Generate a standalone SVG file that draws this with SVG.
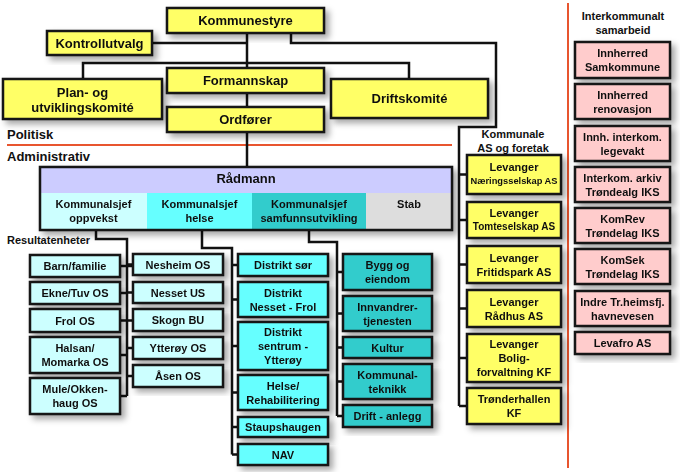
<svg xmlns="http://www.w3.org/2000/svg" width="680" height="472" viewBox="0 0 680 472">
<defs>
<filter id="sh" x="-20%" y="-20%" width="150%" height="160%">
<feDropShadow dx="4" dy="4" stdDeviation="3" flood-color="#000" flood-opacity="0.35"/>
</filter>
<style>
.b{stroke:#151515;stroke-width:2.5}
.y{fill:#ffff66}
.p{fill:#ffcccc}
.c1{fill:#ccffff}
.c2{fill:#66ffff}
.c3{fill:#33cccc}
.n{filter:url(#sh)}
text{font-family:"Liberation Sans",Arial,sans-serif;font-weight:bold;fill:#111;text-anchor:middle}
.t13{font-size:13px}
.t11{font-size:11px}
.lbl{font-size:13px;text-anchor:start}
.lbs{font-size:11px;text-anchor:start}
.con{fill:none;stroke:#111;stroke-width:2.5}
.red{fill:none;stroke:#e8552f;stroke-width:2}
</style>
</defs>
<rect width="680" height="472" fill="#ffffff"/>

<g id="dividers">
<line class="red" x1="7" y1="145" x2="452" y2="145"/>
<line class="red" x1="568" y1="3" x2="568" y2="468"/>
</g>

<g id="labels">
<text class="lbl" x="7" y="139">Politisk</text>
<text class="lbl" x="7" y="161">Administrativ</text>
<text class="lbs" x="7" y="244">Resultatenheter</text>
<text class="t11" x="513" y="138">Kommunale</text>
<text class="t11" x="513" y="152">AS og foretak</text>
<text class="t11" x="623" y="20">Interkommunalt</text>
<text class="t11" x="623" y="34">samarbeid</text>
</g>

<g id="connectors">
<path class="con" d="M247 33V167"/>
<path class="con" d="M152 43H247"/>
<path class="con" d="M83 79V63H409V79"/>
<path class="con" d="M291 33V43H496V127H459V406"/>
<path class="con" d="M459 174.5H467M459 220H467M459 264.5H467M459 308.5H467M459 358H467M459 406H467"/>
<path class="con" d="M96 230V239H127V396"/>
<path class="con" d="M120 266H133M120 293H127M120 320.5H133M120 355H127M120 396H127M127 264.5H133M127 292.5H133M127 348H133M127 376H133"/>
<path class="con" d="M202 230V248H232V454.5"/>
<path class="con" d="M232 265H238M232 299.5H238M232 346H238M232 392.5H238M232 427H238M232 454.5H238"/>
<path class="con" d="M309 230V242H337V416"/>
<path class="con" d="M337 272H343M337 313.5H343M337 347.5H343M337 381.5H343M337 416H343"/>
</g>

<g id="kommunestyre" class="n"><rect class="b y" x="167" y="8" width="157" height="25"/><text class="t13" x="245.5" y="25">Kommunestyre</text></g>
<g id="kontrollutvalg" class="n"><rect class="b y" x="47" y="31" width="105" height="24"/><text class="t13" x="99.5" y="47.5">Kontrollutvalg</text></g>
<g id="plan" class="n"><rect class="b y" x="3" y="79" width="159" height="40"/><text class="t13" x="82.5" y="96.5">Plan- og</text><text class="t13" x="82.5" y="111.5">utviklingskomité</text></g>
<g id="formannskap" class="n"><rect class="b y" x="167" y="68" width="157" height="25"/><text class="t13" x="245.5" y="85">Formannskap</text></g>
<g id="driftskomite" class="n"><rect class="b y" x="331" y="79" width="157" height="39"/><text class="t13" x="409.5" y="103">Driftskomité</text></g>
<g id="ordforer" class="n"><rect class="b y" x="167" y="107" width="157" height="25"/><text class="t13" x="245.5" y="124">Ordfører</text></g>

<g id="radmann" class="n">
<rect x="40" y="167" width="412" height="26" fill="#ccccff"/>
<rect x="40" y="193" width="107" height="37" fill="#ccffff"/>
<rect x="147" y="193" width="105" height="37" fill="#66ffff"/>
<rect x="252" y="193" width="114" height="37" fill="#33cccc"/>
<rect x="366" y="193" width="86" height="37" fill="#dddddd"/>
<rect class="b" x="40" y="167" width="412" height="63" fill="none"/>
<text class="t13" x="246" y="183">Rådmann</text>
<text class="t11" x="93.5" y="208">Kommunalsjef</text><text class="t11" x="93.5" y="222">oppvekst</text>
<text class="t11" x="199.5" y="208">Kommunalsjef</text><text class="t11" x="199.5" y="222">helse</text>
<text class="t11" x="309" y="208">Kommunalsjef</text><text class="t11" x="309" y="222">samfunnsutvikling</text>
<text class="t11" x="409" y="208">Stab</text>
</g>

<g id="barn" class="n"><rect class="b c1" x="30" y="255" width="90" height="22"/><text class="t11" x="75" y="270">Barn/familie</text></g>
<g id="ekne" class="n"><rect class="b c1" x="30" y="282" width="90" height="22"/><text class="t11" x="75" y="297">Ekne/Tuv OS</text></g>
<g id="frol" class="n"><rect class="b c1" x="30" y="309" width="90" height="23"/><text class="t11" x="75" y="324.5">Frol OS</text></g>
<g id="halsan" class="n"><rect class="b c1" x="30" y="337" width="90" height="36"/><text class="t11" x="75" y="352">Halsan/</text><text class="t11" x="75" y="366">Momarka OS</text></g>
<g id="mule" class="n"><rect class="b c1" x="30" y="378" width="90" height="36"/><text class="t11" x="75" y="393">Mule/Okken-</text><text class="t11" x="75" y="407">haug OS</text></g>

<g id="nesheim" class="n"><rect class="b c1" x="133" y="254" width="90" height="21"/><text class="t11" x="178" y="268.5">Nesheim OS</text></g>
<g id="nesset" class="n"><rect class="b c1" x="133" y="282" width="90" height="21"/><text class="t11" x="178" y="296.5">Nesset US</text></g>
<g id="skogn" class="n"><rect class="b c1" x="133" y="309" width="90" height="22"/><text class="t11" x="178" y="324">Skogn BU</text></g>
<g id="ytteroy" class="n"><rect class="b c1" x="133" y="337" width="90" height="22"/><text class="t11" x="178" y="352">Ytterøy OS</text></g>
<g id="asen" class="n"><rect class="b c1" x="133" y="365" width="90" height="22"/><text class="t11" x="178" y="380">Åsen OS</text></g>

<g id="distrikt-sor" class="n"><rect class="b c2" x="238" y="254" width="90" height="22"/><text class="t11" x="283" y="269">Distrikt sør</text></g>
<g id="distrikt-nesset" class="n"><rect class="b c2" x="238" y="282" width="90" height="35"/><text class="t11" x="283" y="296.5">Distrikt</text><text class="t11" x="283" y="310.5">Nesset - Frol</text></g>
<g id="distrikt-sentrum" class="n"><rect class="b c2" x="238" y="322" width="90" height="48"/><text class="t11" x="283" y="336">Distrikt</text><text class="t11" x="283" y="350">sentrum -</text><text class="t11" x="283" y="364">Ytterøy</text></g>
<g id="helse-rehab" class="n"><rect class="b c2" x="238" y="375" width="90" height="35"/><text class="t11" x="283" y="389.5">Helse/</text><text class="t11" x="283" y="403.5">Rehabilitering</text></g>
<g id="staupshaugen" class="n"><rect class="b c2" x="238" y="417" width="90" height="20"/><text class="t11" x="283" y="431">Staupshaugen</text></g>
<g id="nav" class="n"><rect class="b c2" x="238" y="444" width="90" height="21"/><text class="t11" x="283" y="458.5">NAV</text></g>

<g id="bygg" class="n"><rect class="b c3" x="343" y="254" width="89" height="36"/><text class="t11" x="387.5" y="269">Bygg og</text><text class="t11" x="387.5" y="283">eiendom</text></g>
<g id="innvandrer" class="n"><rect class="b c3" x="343" y="296" width="89" height="35"/><text class="t11" x="387.5" y="310.5">Innvandrer-</text><text class="t11" x="387.5" y="324.5">tjenesten</text></g>
<g id="kultur" class="n"><rect class="b c3" x="343" y="337" width="89" height="21"/><text class="t11" x="387.5" y="351.5">Kultur</text></g>
<g id="kommunalteknikk" class="n"><rect class="b c3" x="343" y="364" width="89" height="35"/><text class="t11" x="387.5" y="378.5">Kommunal-</text><text class="t11" x="387.5" y="392.5">teknikk</text></g>
<g id="drift-anlegg" class="n"><rect class="b c3" x="343" y="405" width="89" height="22"/><text class="t11" x="387.5" y="420">Drift - anlegg</text></g>

<g id="naeringsselskap" class="n"><rect class="b y" x="467" y="155" width="94" height="39"/><text class="t11" x="514" y="171">Levanger</text><text style="font-size:9.3px" x="514" y="184">Næringsselskap AS</text></g>
<g id="tomteselskap" class="n"><rect class="b y" x="467" y="202" width="94" height="36"/><text class="t11" x="514" y="217">Levanger</text><text style="font-size:10px" x="514" y="230">Tomteselskap AS</text></g>
<g id="fritidspark" class="n"><rect class="b y" x="467" y="246" width="94" height="37"/><text class="t11" x="514" y="261.5">Levanger</text><text class="t11" x="514" y="275.5">Fritidspark AS</text></g>
<g id="radhus" class="n"><rect class="b y" x="467" y="290" width="94" height="37"/><text class="t11" x="514" y="305.5">Levanger</text><text class="t11" x="514" y="319.5">Rådhus AS</text></g>
<g id="bolig" class="n"><rect class="b y" x="467" y="334" width="94" height="48"/><text class="t11" x="514" y="348">Levanger</text><text class="t11" x="514" y="362">Bolig-</text><text class="t11" x="514" y="376">forvaltning KF</text></g>
<g id="tronderhallen" class="n"><rect class="b y" x="467" y="388" width="94" height="36"/><text class="t11" x="514" y="403">Trønderhallen</text><text class="t11" x="514" y="417">KF</text></g>

<g id="samkommune" class="n"><rect class="b p" x="575" y="42" width="95" height="36"/><text class="t11" x="622.5" y="57">Innherred</text><text class="t11" x="622.5" y="71">Samkommune</text></g>
<g id="renovasjon" class="n"><rect class="b p" x="575" y="84" width="95" height="35"/><text class="t11" x="622.5" y="98.5">Innherred</text><text class="t11" x="622.5" y="112.5">renovasjon</text></g>
<g id="legevakt" class="n"><rect class="b p" x="575" y="126" width="95" height="35"/><text class="t11" x="622.5" y="140.5">Innh. interkom.</text><text class="t11" x="622.5" y="154.5">legevakt</text></g>
<g id="arkiv" class="n"><rect class="b p" x="575" y="167" width="95" height="35"/><text class="t11" x="622.5" y="181.5">Interkom. arkiv</text><text class="t11" x="622.5" y="195.5">Trøndealg IKS</text></g>
<g id="komrev" class="n"><rect class="b p" x="575" y="208" width="95" height="35"/><text class="t11" x="622.5" y="222.5">KomRev</text><text class="t11" x="622.5" y="236.5">Trøndelag IKS</text></g>
<g id="komsek" class="n"><rect class="b p" x="575" y="249" width="95" height="35"/><text class="t11" x="622.5" y="263.5">KomSek</text><text class="t11" x="622.5" y="277.5">Trøndelag IKS</text></g>
<g id="havnevesen" class="n"><rect class="b p" x="575" y="291" width="95" height="35"/><text class="t11" x="622.5" y="305.5">Indre Tr.heimsfj.</text><text class="t11" x="622.5" y="319.5">havnevesen</text></g>
<g id="levafro" class="n"><rect class="b p" x="575" y="332" width="95" height="22"/><text class="t11" x="622.5" y="347">Levafro AS</text></g>
</svg>
